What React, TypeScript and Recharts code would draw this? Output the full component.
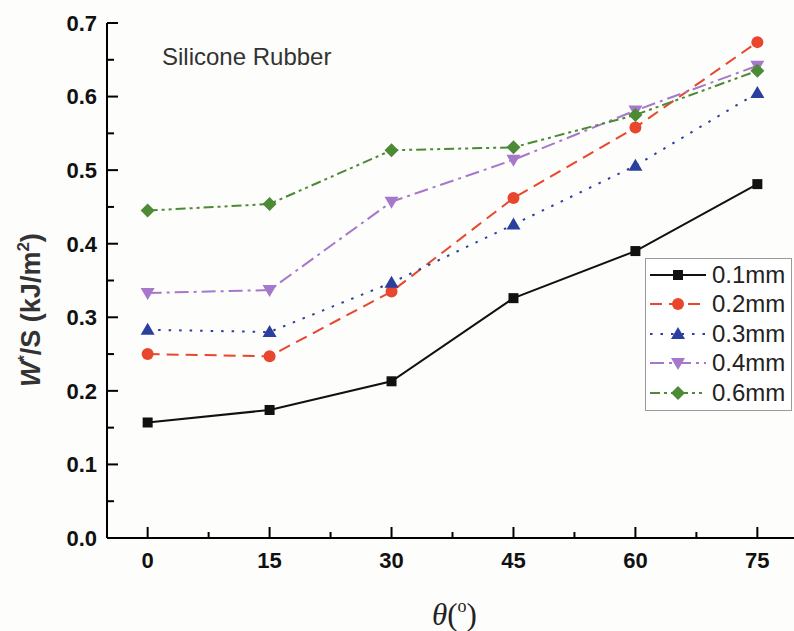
import { LineChart, Line, XAxis, YAxis, Legend } from 'recharts';

const angles = [0, 15, 30, 45, 60, 75];
const mm01 = [0.157, 0.174, 0.213, 0.326, 0.39, 0.481];
const mm02 = [0.25, 0.247, 0.335, 0.462, 0.558, 0.674];
const mm03 = [0.283, 0.28, 0.347, 0.426, 0.506, 0.605];
const mm04 = [0.333, 0.337, 0.457, 0.514, 0.581, 0.642];
const mm06 = [0.445, 0.454, 0.527, 0.531, 0.575, 0.635];

const xTicks = [0, 7.5, 15, 22.5, 30, 37.5, 45, 52.5, 60, 67.5, 75];
const yTicks = [0, 0.05, 0.1, 0.15, 0.2, 0.25, 0.3, 0.35, 0.4, 0.45, 0.5, 0.55, 0.6, 0.65, 0.7];

const series = [
  { key: 'mm01', name: '0.1mm', color: '#111111', dash: undefined, shape: 'square' },
  { key: 'mm02', name: '0.2mm', color: '#e8472e', dash: '12 7', shape: 'circle' },
  { key: 'mm03', name: '0.3mm', color: '#2b3f9c', dash: '2.5 8', shape: 'up' },
  { key: 'mm04', name: '0.4mm', color: '#a678cc', dash: '14 5 3 5', shape: 'down' },
  { key: 'mm06', name: '0.6mm', color: '#4c8a35', dash: '10 4 3 4 3 4', shape: 'diamond' },
];

const data = angles.map((a, i) => ({
  angle: a,
  mm01: mm01[i],
  mm02: mm02[i],
  mm03: mm03[i],
  mm04: mm04[i],
  mm06: mm06[i],
}));

const SANS = '"Liberation Sans", Arial, sans-serif';

function Marker({ cx, cy, shape, color }: any) {
  if (cx == null || cy == null) return null;
  switch (shape) {
    case 'square':
      return <rect x={cx - 5} y={cy - 5} width={10} height={10} fill={color} />;
    case 'circle':
      return <circle cx={cx} cy={cy} r={6} fill={color} />;
    case 'up':
      return <polygon points={`${cx},${cy - 7} ${cx + 7},${cy + 5} ${cx - 7},${cy + 5}`} fill={color} />;
    case 'down':
      return <polygon points={`${cx - 7},${cy - 5} ${cx + 7},${cy - 5} ${cx},${cy + 7}`} fill={color} />;
    default:
      return <polygon points={`${cx},${cy - 7} ${cx + 7},${cy} ${cx},${cy + 7} ${cx - 7},${cy}`} fill={color} />;
  }
}

function isMajor(v: number, step: number) {
  const r = v / step;
  return Math.abs(r - Math.round(r)) < 1e-6;
}

function YTick({ x, y, payload }: any) {
  const major = isMajor(payload.value, 0.1);
  return (
    <g>
      <line x1={x} x2={x + (major ? 11 : 7)} y1={y} y2={y} stroke="#000" strokeWidth={2} />
      {major && (
        <text x={x - 10} y={y} dy="0.36em" textAnchor="end" fontFamily={SANS} fontWeight="bold" fontSize={22} fill="#111">
          {payload.value.toFixed(1)}
        </text>
      )}
    </g>
  );
}

function XTick({ x, y, payload }: any) {
  const major = isMajor(payload.value, 15);
  return (
    <g>
      <line x1={x} x2={x} y1={y} y2={y - (major ? 11 : 6)} stroke="#000" strokeWidth={2} />
      {major && (
        <text x={x} y={y + 30} textAnchor="middle" fontFamily={SANS} fontWeight="bold" fontSize={22} fill="#111">
          {payload.value}
        </text>
      )}
    </g>
  );
}

function YLabel({ viewBox }: any) {
  const cx = viewBox.x - 7;
  const cy = 310;
  return (
    <text
      x={cx}
      y={cy}
      transform={`rotate(-90, ${cx}, ${cy})`}
      textAnchor="middle"
      fontFamily={SANS}
      fontWeight="bold"
      fontSize={27}
      fill="#333"
    >
      <tspan fontStyle="italic">W</tspan>
      <tspan fontSize={16} dy={-10}>*</tspan>
      <tspan dy={10}>/</tspan>
      <tspan>S</tspan>
      <tspan> (kJ/m</tspan>
      <tspan fontSize={17} dy={-11}>2</tspan>
      <tspan dy={11}>)</tspan>
    </text>
  );
}

function XLabel({ viewBox }: any) {
  return (
    <text x={viewBox.x + 325} y={viewBox.y + 87} fontFamily='"Liberation Serif", "Times New Roman", serif' fontSize={31} fill="#222">
      <tspan fontStyle="italic">θ</tspan>
      <tspan>(</tspan>
      <tspan fontSize={18} dy={-13}>o</tspan>
      <tspan dy={13}>)</tspan>
    </text>
  );
}

function LegendBox() {
  return (
    <div
      style={{
        border: '1px solid #9a9a9a',
        background: '#ffffff',
        width: 142,
        padding: '1px 0 2px 3px',
        fontFamily: SANS,
        color: '#222',
      }}
    >
      {series.map((s) => (
        <div key={s.key} style={{ display: 'flex', alignItems: 'center', height: 29.5 }}>
          <svg width={58} height={20} style={{ flexShrink: 0 }}>
            <line x1={1} x2={57} y1={10} y2={10} stroke={s.color} strokeWidth={2} strokeDasharray={s.dash} />
            <Marker cx={29} cy={10} shape={s.shape} color={s.color} />
          </svg>
          <span style={{ marginLeft: 5, fontSize: 24, fontFamily: SANS, whiteSpace: 'nowrap' }}>{s.name}</span>
        </div>
      ))}
    </div>
  );
}

export default function App() {
  return (
    <div
      style={{
        position: 'fixed',
        left: 0,
        top: 0,
        width: 794,
        height: 631,
        overflow: 'hidden',
        background: '#fdfdfb',
      }}
    >
      <div
        style={{
          position: 'absolute',
          left: 162,
          top: 42,
          fontFamily: SANS,
          fontSize: 24,
          color: '#333',
          zIndex: 2,
          lineHeight: '30px',
        }}
      >
        Silicone Rubber
      </div>
      <LineChart width={800} height={631} data={data} margin={{ top: 23, right: 2, bottom: 33, left: 47 }}>
        <XAxis
          dataKey="angle"
          type="number"
          domain={[-5, 80]}
          ticks={xTicks}
          interval={0}
          tickLine={false}
          tickSize={0}
          tickMargin={0}
          tick={<XTick />}
          axisLine={{ stroke: '#000', strokeWidth: 2 }}
          height={60}
          label={(p: any) => <XLabel {...p} />}
        />
        <XAxis
          xAxisId="top"
          orientation="top"
          type="number"
          domain={[-5, 80]}
          tick={false}
          tickLine={false}
          height={0}
          axisLine={{ stroke: '#000', strokeWidth: 2 }}
        />
        <YAxis
          type="number"
          domain={[0, 0.7]}
          ticks={yTicks}
          interval={0}
          tickLine={false}
          tickSize={0}
          tickMargin={0}
          tick={<YTick />}
          axisLine={{ stroke: '#000', strokeWidth: 2 }}
          width={60}
          label={(p: any) => <YLabel {...p} />}
        />
        <Legend
          layout="vertical"
          align="center"
          verticalAlign="middle"
          content={() => <LegendBox />}
          wrapperStyle={{ left: 645, top: 258, width: 146 }}
        />
        {series.map((s) => (
          <Line
            key={s.key}
            dataKey={s.key}
            name={s.name}
            stroke={s.color}
            strokeWidth={2}
            strokeDasharray={s.dash}
            isAnimationActive={false}
            dot={(p: any) => <Marker key={`${s.key}-${p.index}`} cx={p.cx} cy={p.cy} shape={s.shape} color={s.color} />}
            activeDot={false}
          />
        ))}
      </LineChart>
    </div>
  );
}
